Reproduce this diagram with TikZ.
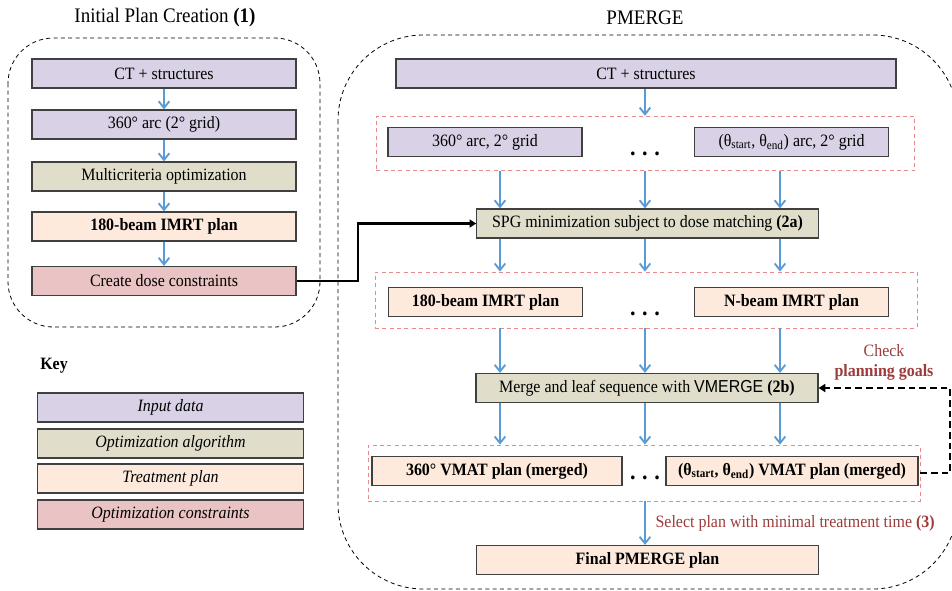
\documentclass[tikz,border=0pt,12pt]{standalone}
\usepackage{fontspec}
\setmainfont{Liberation Serif}[FakeStretch=0.92]
\setsansfont{Liberation Sans}[FakeStretch=0.92]
\usetikzlibrary{arrows.meta,positioning,calc}
\definecolor{Input}{HTML}{D9D1E5}
\definecolor{Algo}{HTML}{E0DECB}
\definecolor{Plan}{HTML}{FDEADC}
\definecolor{Cons}{HTML}{EAC4C4}
\definecolor{Edge}{HTML}{404040}
\definecolor{Flow}{HTML}{5B9BD5}
\definecolor{Group}{HTML}{E68A8A}
\definecolor{Note}{HTML}{9C3B3B}
\newcommand{\bodyfont}{\fontsize{13}{15}\selectfont}
\tikzset{
 box/.style={draw=Edge,line width=0.9pt,minimum height=21.75pt,inner sep=2pt,font=\bodyfont},
 input/.style={box,fill=Input},
 algo/.style={box,fill=Algo},
 plan/.style={box,fill=Plan,font=\bodyfont\bfseries},
 cons/.style={box,fill=Cons},
 keybox/.style={box,minimum width=199pt,font=\bodyfont\itshape},
 group/.style={draw=Group,line width=0.6pt,dash pattern=on 3pt off 2.5pt},
 stage/.style={draw=black,line width=0.6pt,dash pattern=on 3pt off 2.5pt},
 flow/.style={-{Straight Barb[length=5pt,width=8pt]},draw=Flow,line width=1.4pt},
 link/.style={-{Triangle[length=5pt,width=6pt]},line width=1.8pt},
 feedback/.style={link,dash pattern=on 5pt off 3pt},
 dots/.style={anchor=base,font=\fontsize{18}{18}\selectfont\bfseries},
 title/.style={font=\fontsize{15.5}{18}\selectfont}
}

\begin{document}
\begin{tikzpicture}[x=0.75pt,y=-0.75pt]
\useasboundingbox (0,0) rectangle (952,590);
% Stage outlines, the PMERGE one runs off the page.
\draw[stage,rounded corners=34pt] (8,38) rectangle (320,327);
\begin{scope}
 \clip (0,0) rectangle (952,590);
 \draw[stage,rounded corners=64pt] (338,35) rectangle (958,589);
\end{scope}
\node[title] (titleL) at (165,18) {Initial Plan Creation \textbf{(1)}};
\node[title] (titleR) at (645,18) {PMERGE};
% Initial plan creation (1).
\node[input,minimum width=198pt] (ctL) at (164,73.5) {CT + structures};
\node[input,minimum width=198pt] (arcL) at (164,124.5) {360° arc (2° grid)};
\node[algo,minimum width=198pt] (mco) at (164,176.5) {Multicriteria optimization};
\node[plan,minimum width=198pt] (imrtL) at (164,226.5) {180-beam IMRT plan};
\node[cons,minimum width=198pt] (dose) at (164,281) {Create dose constraints};
\foreach \a/\b in {ctL/arcL,arcL/mco,mco/imrtL,imrtL/dose}
 \draw[flow] (\a.south) -- (\b.north);
% Key.
\node[font=\bodyfont\bfseries] (key) at (54,366) {Key};
\node[keybox,fill=Input] (keyIn) at (170.5,407.5) {Input data};
\node[keybox,fill=Algo] (keyAlgo) at (170.5,443.5) {Optimization algorithm};
\node[keybox,fill=Plan] (keyPlan) at (170.5,478.5) {Treatment plan};
\node[keybox,fill=Cons] (keyCons) at (170.5,514.5) {Optimization constraints};
% PMERGE column.
\coordinate (colA) at (500,0);
\coordinate (colB) at (645,0);
\coordinate (colC) at (780,0);
\node[input,minimum width=375pt] (ctR) at (646,73.5) {CT + structures};
\node[group,minimum width=404pt,minimum height=41pt] (grpArc) at (645.5,143.5) {};
\node[input,minimum width=145.5pt] (arcA) at (485,142) {360° arc, 2° grid};
\node[input,minimum width=145pt] (arcB) at (791.5,142) {(θ\textsubscript{start}, θ\textsubscript{end}) arc, 2° grid};
\node[dots] (dotsArc) at (645,155) {.\hspace{5pt}.\hspace{5pt}.};
\node[algo,minimum width=256pt] (spg) at (647.5,223.5) {SPG minimization subject to dose matching \textbf{(2a)}};
\node[group,minimum width=406.5pt,minimum height=42pt] (grpImrt) at (646,300) {};
\node[plan,minimum width=146pt] (imrtA) at (485.5,302) {180-beam IMRT plan};
\node[plan,minimum width=145pt] (imrtB) at (791.5,302) {N-beam IMRT plan};
\node[dots] (dotsImrt) at (645,315) {.\hspace{5pt}.\hspace{5pt}.};
\node[algo,minimum width=256.5pt] (merge) at (647,388) {Merge and leaf sequence with \textsf{VMERGE} \textbf{(2b)}};
\node[group,minimum width=414pt,minimum height=42pt] (grpVmat) at (644,473) {};
\node[plan,minimum width=187.5pt] (vmatA) at (497,471) {360° VMAT plan (merged)};
\node[plan,minimum width=189pt] (vmatB) at (792,471) {(θ\textsubscript{start}, θ\textsubscript{end}) VMAT plan (merged)};
\node[dots] (dotsVmat) at (645,479) {.\hspace{5pt}.\hspace{5pt}.};
\node[plan,minimum width=256pt] (final) at (647.5,560) {Final PMERGE plan};
\draw[flow] (ctR.south -| colB) -- (grpArc.north -| colB);
\foreach \c in {colA,colB,colC} {
 \draw[flow] (grpArc.south -| \c) -- (spg.north -| \c);
 \draw[flow] (spg.south -| \c) -- (grpImrt.north -| \c);
 \draw[flow] (grpImrt.south -| \c) -- (merge.north -| \c);
 \draw[flow] (merge.south -| \c) -- (grpVmat.north -| \c);
}
\draw[flow] (grpVmat.south -| colB) -- (final.north -| colB);
\node[anchor=west,text=Note,font=\bodyfont] (select) at (650,523) {Select plan with minimal treatment time \textbf{(3)}};
% Constraints feed the SPG step, merged plans loop back.
\coordinate (turnA) at (358,0);
\coordinate (turnB) at (950,0);
\draw[link] (dose.east) -- (dose.east -| turnA) |- (spg.west);
\draw[feedback] (grpVmat.east) -- (grpVmat.east -| turnB) |- (merge.east);
\node[align=center,text=Note,font=\bodyfont] (check) at (884,362) {Check\\\textbf{planning goals}};
\end{tikzpicture}
\end{document}
